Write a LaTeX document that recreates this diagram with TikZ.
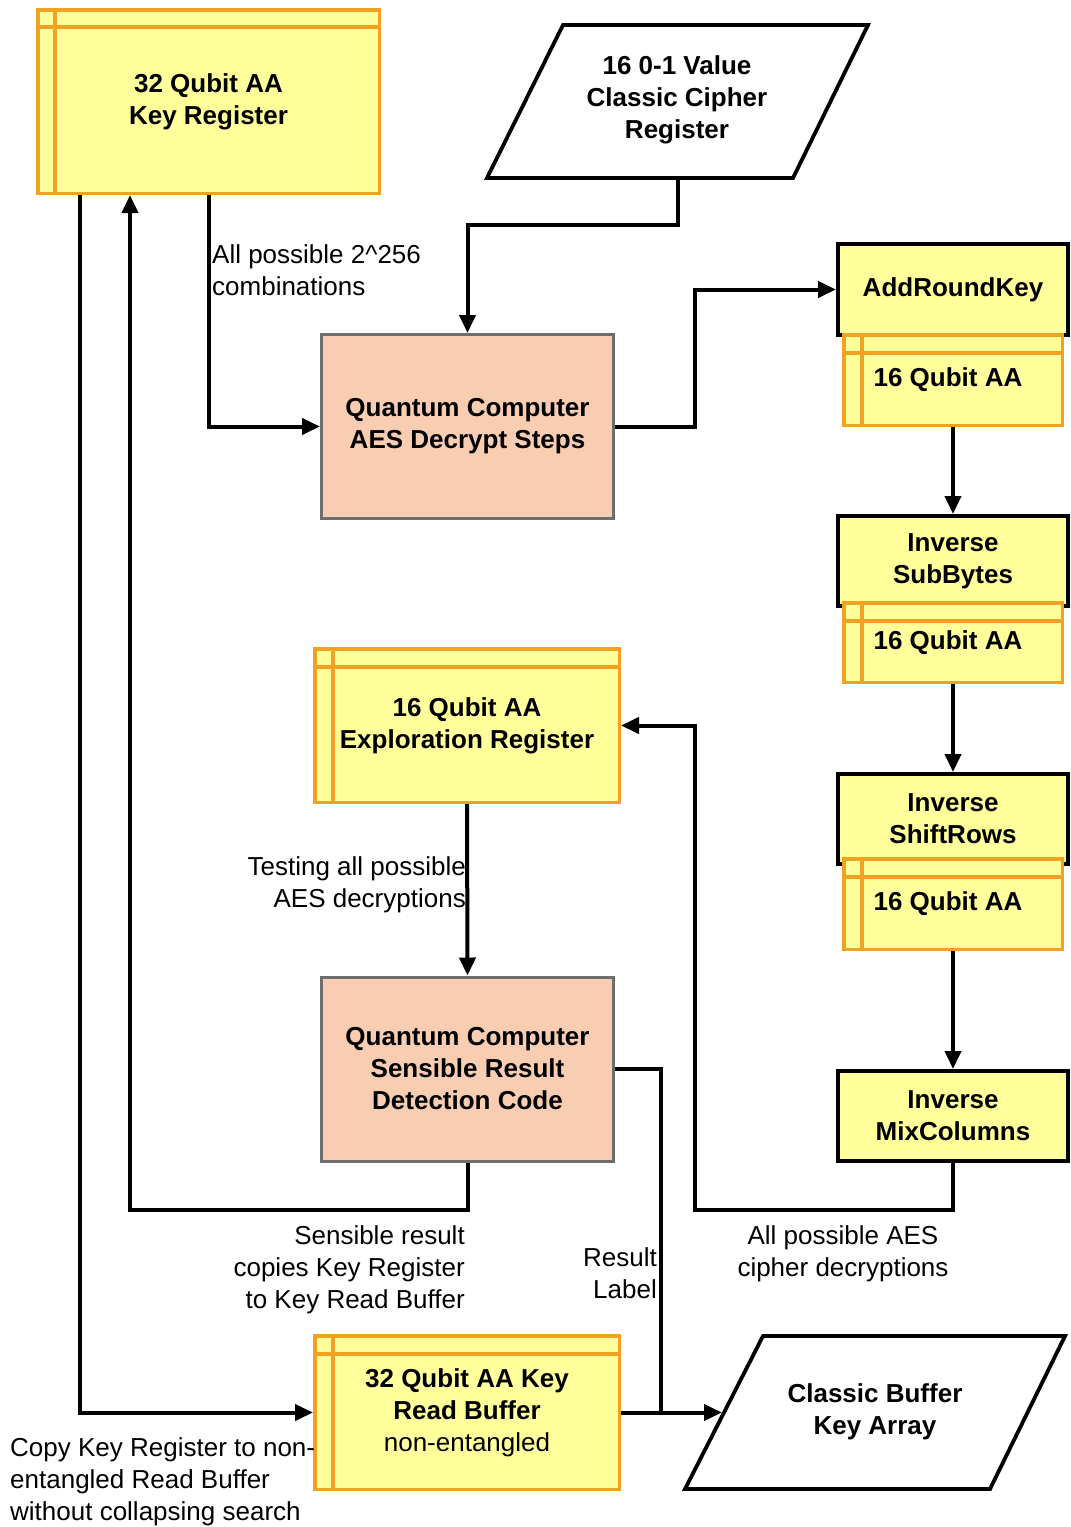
\documentclass[tikz,border=0pt]{standalone}
\usepackage{fontspec}
\setmainfont{Liberation Sans}
\usetikzlibrary{arrows.meta,calc}
\definecolor{yel}{RGB}{255,255,155}
\definecolor{org}{RGB}{243,161,33}
\definecolor{peach}{RGB}{248,205,178}
\definecolor{grayb}{RGB}{110,110,110}
\newcommand\reglines[2]{%
  \draw[org, line width=3.5pt, shorten <=1.75pt, shorten >=1.75pt] ([xshift=#2pt]#1.north west) -- ([xshift=#2pt]#1.south west);
  \draw[org, line width=3.5pt, shorten <=1.75pt, shorten >=1.75pt] ([yshift=-#2pt]#1.north west) -- ([yshift=-#2pt]#1.north east);}
\begin{document}
\begin{tikzpicture}[x=1pt,y=-1pt,
  txt/.style={font=\fontsize{26}{32}\selectfont, inner sep=0pt},
  btxt/.style={font=\fontsize{26}{32}\selectfont\bfseries, inner sep=0pt},
  reg/.style={draw=org, fill=yel, line width=3.5pt, btxt, align=center},
  blk/.style={draw=black, fill=yel, line width=4pt, btxt, align=center, minimum width=230pt},
  qc/.style={draw=grayb, fill=peach, line width=3pt, btxt, align=center, minimum width=292pt, minimum height=184pt},
  para/.style={draw=black, fill=white, line width=3.8pt, line join=miter},
  arr/.style={line width=4pt, -{Triangle[length=18pt,width=16pt]}},
  conn/.style={line width=4pt}]
\useasboundingbox (0,0) rectangle (1071,1527);
\fill[white] (0,0) rectangle (1071,1527);

% top registers
\node[reg, minimum width=341.5pt, minimum height=183.5pt] (key) at (208.5,101.5) {32 Qubit AA\\Key Register};
\reglines{key}{19}

\draw[para] (563,25) -- (868,25) -- (793,178) -- (487,178) -- cycle;
\node[btxt, align=center] (cph) at (677,100) {16 0-1 Value\\Classic Cipher\\Register};
\coordinate (cphb) at (678,178);

\node[qc] (aes) at (467.5,426.5) {Quantum Computer\\AES Decrypt Steps};

% right column
\node[blk, minimum height=91pt] (ark) at (953,289.5) {AddRoundKey};
\node[reg, minimum width=218.5pt, minimum height=90.5pt] (ark16) at (953,380) {\hspace*{-10pt}16 Qubit AA};
\reglines{ark16}{20}
\node[blk, minimum height=90pt] (sub) at (953,561) {Inverse\\SubBytes};
\node[reg, minimum width=218.5pt, minimum height=79.5pt] (sub16) at (953,642.5) {\hspace*{-10pt}16 Qubit AA};
\reglines{sub16}{20}
\node[blk, minimum height=90pt] (shr) at (953,819) {Inverse\\ShiftRows};
\node[reg, minimum width=218.5pt, minimum height=90.5pt] (shr16) at (953,904) {\hspace*{-10pt}16 Qubit AA};
\reglines{shr16}{20}
\node[blk, minimum height=90pt] (mix) at (953,1116) {Inverse\\MixColumns};

% middle
\node[reg, minimum width=304.5pt, minimum height=153.5pt] (expl) at (467,725.5) {16 Qubit AA\\Exploration Register};
\reglines{expl}{20}
\node[qc] (sens) at (467.5,1069) {Quantum Computer\\Sensible Result\\Detection Code};

% bottom
\node[reg, font=\fontsize{26}{32}\selectfont, minimum width=304.5pt, minimum height=153.5pt] (rb) at (467,1412.5) {\textbf{32 Qubit AA Key}\\\textbf{Read Buffer}\\non-entangled};
\reglines{rb}{20}

\draw[para] (763,1336) -- (1065,1336) -- (990,1489) -- (685,1489) -- cycle;
\node[btxt, align=center] (cb) at (875,1412) {Classic Buffer\\Key Array};
\coordinate (cbw) at (722,1412.5);
\coordinate (jn) at (661,1412.5);

% connectors
\draw[arr] (key.south) |- (aes.west);
\draw[arr] (cphb) -- ++(0,47) -| (aes.north);
\draw[arr] (aes.east) -- ++(80,0) |- (ark.west);
\draw[arr] (ark16.south) -- (sub.north);
\draw[arr] (sub16.south) -- (shr.north);
\draw[arr] (shr16.south) -- (mix.north);
\draw[arr] (mix.south) -- ++(0,47) -- ++(-258,0) |- (expl.east);
\draw[arr] (expl.south) -- (sens.north);
\draw[arr] (sens.south) -- ++(0,47) -| ([xshift=-78.5pt]key.south);
\draw[arr] ([xshift=-128.5pt]key.south) |- (rb.west);
\draw[conn] (sens.east) -| (jn);
\draw[arr] (rb.east) -- (cbw);

% labels
\node[txt, anchor=west, align=left] (l1) at (212,270) {All possible 2\textasciicircum256\\combinations};
\node[txt, anchor=east, align=right] (l2) at (466,885) {Testing all possible\\AES decryptions};
\node[txt, anchor=east, align=right] (l3) at (465,1270) {Sensible result\\copies Key Register\\to Key Read Buffer};
\node[txt, anchor=east, align=right] (l4) at (657,1273) {Result\\Label};
\node[txt, align=center] (l5) at (843,1254) {All possible AES\\cipher decryptions};
\node[txt, anchor=west, align=left] (l6) at (10,1482) {Copy Key Register to non-\\entangled Read Buffer\\without collapsing search};
\end{tikzpicture}
\end{document}
